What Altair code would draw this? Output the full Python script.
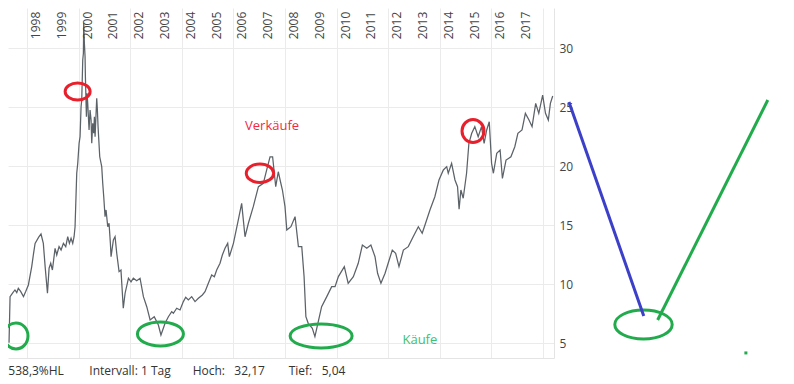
import altair as alt
import pandas as pd

# Price series (decimal year, price)
years = [1997.30, 1997.34, 1997.45, 1997.53, 1997.60, 1997.66, 1997.75, 1997.86, 1997.95,
         1998.05, 1998.18, 1998.25, 1998.31, 1998.45, 1998.54, 1998.63, 1998.70, 1998.79, 1998.853, 1998.917,
         1998.982, 1999.085, 1999.150, 1999.240, 1999.318, 1999.408, 1999.499, 1999.576, 1999.641, 1999.705,
         1999.770, 1999.822, 1999.860, 1999.925, 1999.964,
         2000.016, 2000.054, 2000.093, 2000.119, 2000.158, 2000.183, 2000.196, 2000.222, 2000.248, 2000.261,
         2000.300, 2000.326, 2000.351, 2000.403, 2000.442, 2000.481, 2000.507, 2000.545, 2000.584, 2000.610,
         2000.636, 2000.700, 2000.726, 2000.752, 2000.817, 2000.894, 2000.933, 2000.972,
         2001.023, 2001.062, 2001.127, 2001.178, 2001.230, 2001.256, 2001.346, 2001.411, 2001.476, 2001.566,
         2001.64, 2001.73, 2001.80, 2001.93,
         2002.03, 2002.12, 2002.25, 2002.38, 2002.51, 2002.64, 2002.77, 2002.93,
         2003.09, 2003.19, 2003.35, 2003.478, 2003.607, 2003.672, 2003.801, 2003.930,
         2004.059, 2004.150, 2004.253, 2004.382, 2004.512, 2004.641, 2004.796, 2004.899,
         2005.028, 2005.158, 2005.261, 2005.351, 2005.481, 2005.571, 2005.674, 2005.778, 2005.842,
         2006.00, 2006.19, 2006.32, 2006.45, 2006.58, 2006.77, 2006.97,
         2007.16, 2007.29, 2007.42, 2007.52, 2007.64, 2007.74, 2007.81, 2007.90,
         2008.00, 2008.07, 2008.23, 2008.39, 2008.52, 2008.65, 2008.74, 2008.81, 2008.90,
         2009.06, 2009.16, 2009.29, 2009.42, 2009.62, 2009.81, 2009.94,
         2010.07, 2010.30, 2010.45, 2010.65, 2010.84,
         2011.00, 2011.17, 2011.33, 2011.49, 2011.59, 2011.72, 2011.88,
         2012.00, 2012.16, 2012.29, 2012.42, 2012.59, 2012.78, 2012.97,
         2013.17, 2013.32, 2013.45, 2013.62, 2013.81, 2013.97,
         2014.14, 2014.27, 2014.33, 2014.46, 2014.59, 2014.69, 2014.75, 2014.82, 2014.91,
         2015.04, 2015.13, 2015.24, 2015.36, 2015.49, 2015.62, 2015.72, 2015.82, 2015.92,
         2016.01, 2016.08, 2016.21, 2016.34, 2016.43, 2016.57, 2016.76, 2016.91,
         2017.03, 2017.19, 2017.32, 2017.46, 2017.58, 2017.72, 2017.84, 2017.99,
         2018.10, 2018.21, 2018.29, 2018.38]
prices = [5.04, 8.95, 9.30, 9.52, 9.30, 9.66, 9.40, 8.95, 9.40,
          9.94, 11.50, 12.60, 13.47, 14.00, 14.26, 13.47, 11.50, 9.24, 11.36, 11.78,
          11.21, 13.05, 12.48, 13.19, 12.91, 13.47, 13.19, 14.03, 13.47, 13.90,
          13.47, 14.03, 14.88, 19.41, 20.25,
          21.95, 22.51, 25.05, 25.62, 29.01, 29.58, 32.17, 30.42, 29.29, 27.59,
          24.20, 26.19, 25.34, 23.08, 24.77, 23.92, 21.95, 23.64, 22.80, 24.20,
          22.51, 25.76, 24.77, 23.36, 20.81, 19.97, 18.56, 17.42,
          15.73, 16.30, 14.88, 15.17, 13.47, 12.34, 13.75, 14.03, 12.63, 11.07,
          11.20, 7.97, 9.24, 10.51,
          10.20, 10.51, 10.30, 10.51, 8.95, 8.10, 6.97, 7.25,
          6.55, 5.70, 6.69, 7.25, 7.68, 7.54, 7.97, 7.82,
          8.53, 8.90, 8.67, 8.95, 8.53, 8.81, 9.09, 9.37,
          10.08, 10.79, 10.64, 11.21, 11.78, 12.48, 13.05, 13.47, 12.34,
          13.47, 15.45, 16.86, 14.03, 15.17, 16.58, 18.27,
          18.56, 19.69, 20.81, 20.81, 18.27, 19.54, 18.84, 17.99,
          16.58, 14.60, 14.88, 15.73, 13.19, 13.19, 10.65, 7.25, 6.69,
          6.27, 5.56, 6.83, 8.10, 8.95, 9.80, 9.80,
          10.65, 11.50, 10.08, 10.65, 11.78,
          13.33, 13.05, 13.33, 12.34, 10.93, 10.08, 10.93,
          11.78, 12.90, 12.63, 11.50, 12.90, 13.19, 14.03,
          14.88, 14.32, 15.17, 16.30, 17.42, 18.84,
          19.69, 19.97, 19.41, 20.25, 18.84, 18.27, 16.36, 17.99, 17.29,
          19.41, 21.95, 22.80, 23.36, 22.51, 23.36, 21.95, 23.08, 23.78,
          20.25, 19.41, 21.10, 21.38, 18.98, 20.53, 20.81, 21.66,
          22.80, 23.08, 24.49, 23.92, 23.36, 25.34, 24.49, 26.04,
          24.49, 23.92, 25.34, 25.96]

year_labels = list(range(1998, 2018))
grid_years = list(range(1998, 2019))
y_ticks = [5, 10, 15, 20, 25, 30]

# Annotation ellipse centres (year, price)
red_t = [1999.96, 2007.03, 2015.29]
red_v = [26.34, 19.41, 22.99]
green_t = [1997.57, 2003.17, 2009.40, 2021.90]
green_v = [5.62, 5.79, 5.62, 6.59]

# Right-hand sketch lines (year, price)
blue_line_t = [2019.01, 2021.91]
blue_line_v = [25.45, 7.31]
green_line_t = [2022.45, 2026.72]
green_line_v = [6.97, 25.62]
dot_t = [2025.87]
dot_v = [4.18]

footer = ["538,3%HL", "Intervall: 1 Tag", "Hoch:", "32,17", "Tief:", "5,04"]

FONT = "Open Sans"
RED = "#e8202c"
GREEN = "#22ab4c"
BLUE = "#3c3fc8"

xs = alt.Scale(domain=[1997.26, 2018.43], nice=False, zero=False)
ys = alt.Scale(domain=[3.75, 33.42], nice=False, zero=False)

price_df = pd.DataFrame({"t": years, "v": prices})

line = alt.Chart(price_df).mark_line(color="#5b6268", strokeWidth=1.25).encode(
    x=alt.X("t:Q", scale=xs, title=None,
            axis=alt.Axis(values=grid_years, labels=False, ticks=False, grid=True,
                          gridColor="#ebebeb", domainColor="#e4e4e4")),
    y=alt.Y("v:Q", scale=ys, title=None,
            axis=alt.Axis(orient="right", values=y_ticks, ticks=False, labelPadding=5,
                          grid=True, gridColor="#ebebeb", domainColor="#e4e4e4",
                          labelFont=FONT, labelFontSize=12, labelColor="#444444")),
)

def xy():
    return dict(x=alt.X("t:Q", scale=xs), y=alt.Y("v:Q", scale=ys))

year_text = alt.Chart(pd.DataFrame({"t": year_labels, "lab": [str(y) for y in year_labels]})).mark_text(
    angle=270, align="right", baseline="middle", dy=9, font=FONT, fontSize=12, color="#444444"
).encode(x=alt.X("t:Q", scale=xs), y=alt.value(3.7), text="lab:N")

red_sizes = [(12.5, 8.5), (13.7, 9.3), (11.0, 11.5)]
green_sizes = [(12.0, 13.0), (23.0, 12.0), (31.0, 12.0), (28.7, 14.5)]

def ellipse(t, v, rx, ry, color):
    k = ry / rx
    path = f"M-1,0A1,{k:.3f} 0 1,1 1,0A1,{k:.3f} 0 1,1 -1,0Z"
    return alt.Chart(pd.DataFrame({"t": [t], "v": [v]})).mark_point(
        shape=path, size=(2 * rx) ** 2, filled=False, color=color, strokeWidth=3, opacity=1
    ).encode(**xy())

ellipses = [ellipse(t, v, rx, ry, RED) for t, v, (rx, ry) in zip(red_t, red_v, red_sizes)]
ellipses += [ellipse(t, v, rx, ry, GREEN) for t, v, (rx, ry) in zip(green_t, green_v, green_sizes)]

blue_line = alt.Chart(pd.DataFrame({"t": blue_line_t, "v": blue_line_v})).mark_line(
    color=BLUE, strokeWidth=3).encode(**xy())
green_line = alt.Chart(pd.DataFrame({"t": green_line_t, "v": green_line_v})).mark_line(
    color=GREEN, strokeWidth=3).encode(**xy())
dot = alt.Chart(pd.DataFrame({"t": dot_t, "v": dot_v})).mark_square(
    color=GREEN, size=9, opacity=1).encode(**xy())

verk = alt.Chart(pd.DataFrame({"t": [2007.5], "v": [23.45], "s": ["Verkäufe"]})).mark_text(
    font=FONT, fontSize=13, color="#ee2a45", align="center", baseline="middle"
).encode(text="s:N", **xy())
kauf = alt.Chart(pd.DataFrame({"t": [2013.23], "v": [5.24], "s": ["Käufe"]})).mark_text(
    font=FONT, fontSize=13, color="#3fc070", align="center", baseline="middle"
).encode(text="s:N", **xy())

footer_x = [0.3, 81.3, 184.7, 226.3, 280.7, 313.7]
footer_layers = [
    alt.Chart(pd.DataFrame({"s": [s]})).mark_text(
        font=FONT, fontSize=12, color="#333333", align="left", baseline="middle"
    ).encode(x=alt.value(px), y=alt.value(362.5), text="s:N")
    for s, px in zip(footer, footer_x)
]

chart = alt.layer(line, year_text, *ellipses, blue_line, green_line, dot, verk, kauf,
                  *footer_layers).properties(
    width=546, height=350,
    autosize=alt.AutoSizeParams(type="none"),
    padding={"left": 0, "top": 0, "right": 232, "bottom": 26},
    background="white",
).configure_view(stroke=None)

chart.save("out.html", embed_options={"renderer": "svg", "actions": False})
